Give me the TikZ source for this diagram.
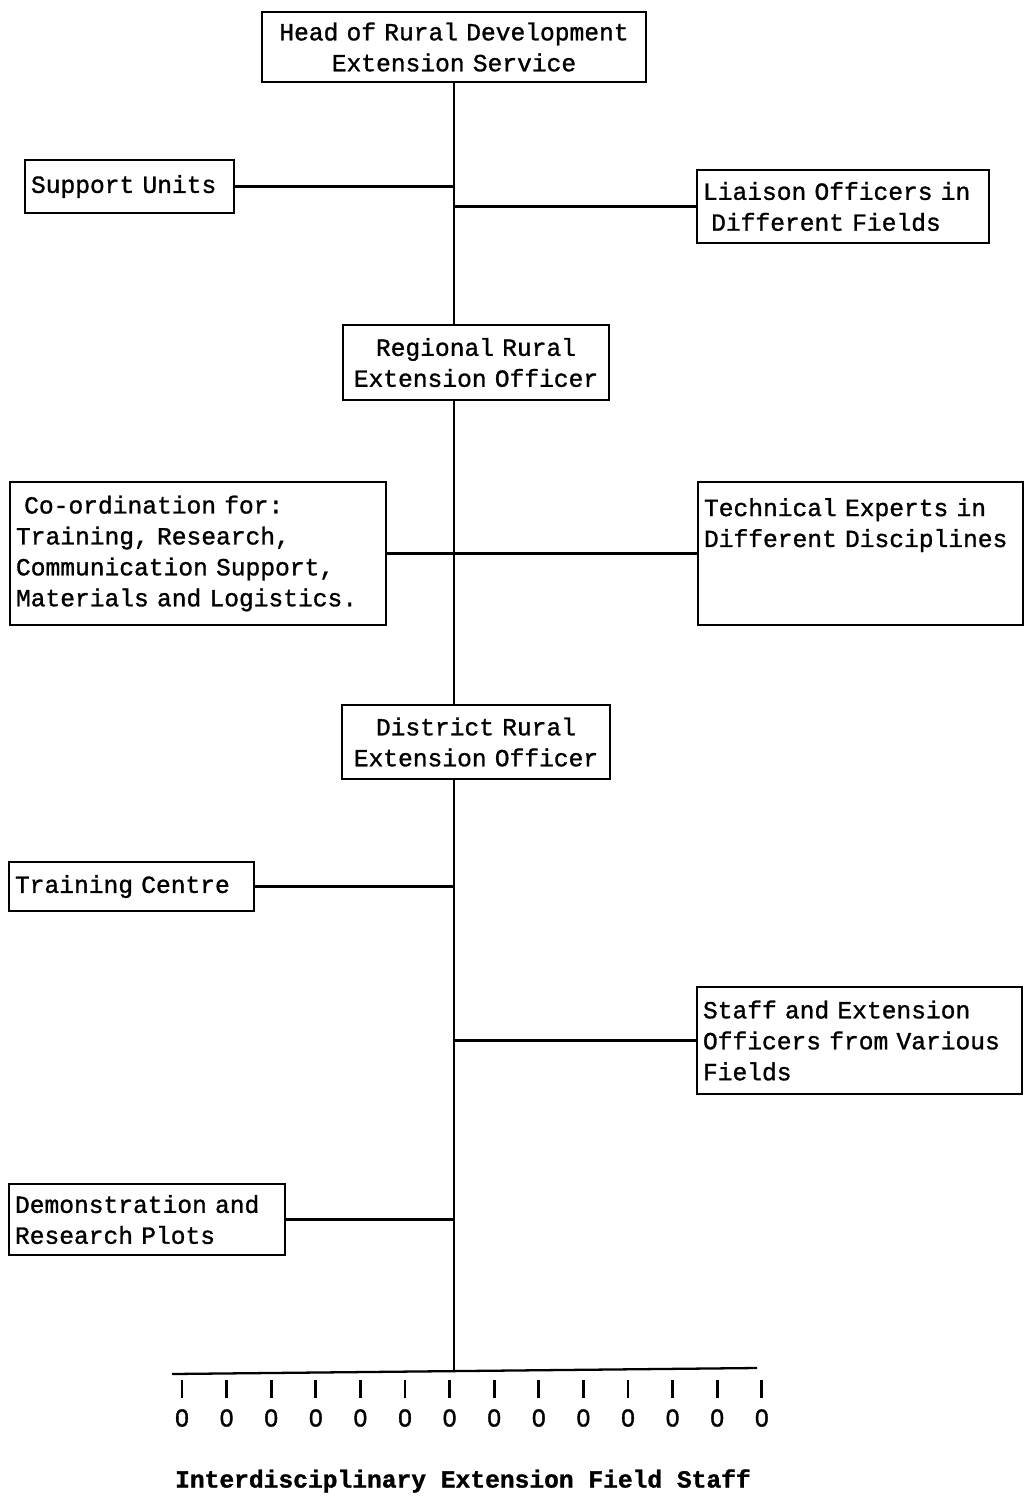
\documentclass[tikz,border=0pt]{standalone}
\usepackage{fontspec}
\newfontfamily\typew[FakeBold=1.2]{Liberation Mono}
\newfontfamily\digitfont[FakeBold=1.5]{Liberation Sans}
\newdimen\px \px=0.02cm
\begin{document}
\begin{tikzpicture}[x=0.02cm, y=-0.02cm,
    box/.style args={#1x#2}{draw, line width=1.3pt, minimum width=#1*\px, minimum height=#2*\px,
        text width=(#1-12)*\px, inner xsep=6*\px, inner ysep=0pt, align=left,
        font=\typew\fontsize{14}{17.6}\selectfont},
    link/.style={line width=1.3pt},
    zero/.style={font=\digitfont\fontsize{14}{17}\selectfont, inner sep=0pt}]
    \useasboundingbox (0,0) rectangle (1028,1499);

    \node[box=384x70, align=center] (head) at (454,47) {Head of Rural Development\\Extension Service};
    \node[box=209x53] (support) at (129.5,186.5) {Support Units};
    \node[box=292x73] (liaison) at (843,206.5) {Liaison Officers in\\\ Different Fields};
    \node[box=266x75, align=center] (regional) at (476,362.5) {Regional Rural\\Extension Officer};
    \node[box=376x143] (coord) at (198,553.5) {\ Co-ordination for:\\Training, Research,\\Communication Support,\\Materials and Logistics.};
    \node[box=325x143] (tech) at (860.5,553.5) {Technical Experts in\\Different Disciplines\\\mbox{}\\\mbox{}};
    \node[box=268x74, align=center] (district) at (476,742) {District Rural\\Extension Officer};
    \node[box=245x49] (training) at (131.5,886.5) {Training Centre};
    \node[box=325x107] (staff) at (859.5,1040.5) {Staff and Extension\\Officers from Various\\Fields};
    \node[box=276x71] (demo) at (147,1219.5) {Demonstration and\\Research Plots};

    \coordinate (bot) at (454,1371);
    \coordinate (bl) at (172,1374);
    \coordinate (br) at (757,1368);

    % main line
    \draw[link] (head.south) -- (head.south |- regional.north);
    \draw[link] (head.south |- regional.south) -- (head.south |- district.north);
    \draw[link] (head.south |- district.south) -- (bot);

    % side boxes
    \draw[link] (support.east) -- (support.east -| bot);
    \draw[link] (liaison.west) -- (liaison.west -| bot);
    \draw[link] (coord.east) -- (tech.west);
    \draw[link] (training.east) -- (training.east -| bot);
    \draw[link] (staff.west) -- (staff.west -| bot);
    \draw[link] (demo.east) -- (demo.east -| bot);

    % field staff
    \draw[link] (bl) -- (br);
    \foreach \i in {0,...,13} {
        \coordinate (t\i) at (182+44.6*\i,1380);
        \draw[link, line width=1.5pt] (t\i) -- ++(0,18);
        \node[zero] (z\i) at (182+44.6*\i,1418) {0};
    }
    \node[font=\typew\bfseries\fontsize{14}{17}\selectfont] (staffnote) at (463,1481) {Interdisciplinary Extension Field Staff};
\end{tikzpicture}
\end{document}
